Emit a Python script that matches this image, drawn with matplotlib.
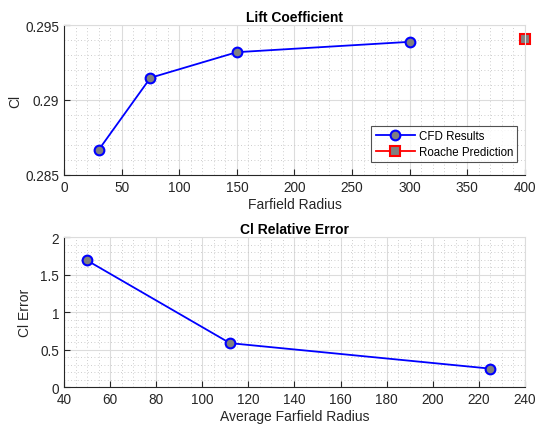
import matplotlib.pyplot as plt
from matplotlib.ticker import MultipleLocator

plt.rcParams['font.family'] = ['Liberation Sans', 'DejaVu Sans']

# data
farfield_radius = [30, 75, 150, 300]
cl_cfd = [0.28666, 0.29148, 0.29319, 0.29388]
roache_radius = [400]
cl_roache = [0.29407]

avg_radius = [50, 112, 225]
cl_error = [1.688, 0.585, 0.245]

txt = '#262626'


def style_axes(ax, xminor, yminor):
    ax.xaxis.set_minor_locator(MultipleLocator(xminor))
    ax.yaxis.set_minor_locator(MultipleLocator(yminor))
    ax.grid(which='major', color='#dcdcdc', linewidth=0.8)
    ax.grid(which='minor', color='#bdbdbd', linestyle=(0, (1, 3)), linewidth=0.6)
    ax.set_axisbelow(True)
    for s in ['top', 'right']:
        ax.spines[s].set_color('#dcdcdc')
    for s in ['left', 'bottom']:
        ax.spines[s].set_color(txt)
    ax.tick_params(which='both', direction='in', colors=txt, labelsize=9.8)
    ax.tick_params(which='minor', length=0)
    ax.tick_params(which='major', length=4, top=False, right=False)


fig = plt.figure(figsize=(5.35, 4.27), dpi=100)
ax1 = fig.add_axes([0.1196, 0.588, 0.8617, 0.351])
ax2 = fig.add_axes([0.1196, 0.0913, 0.8617, 0.3513])

ax1.plot(farfield_radius, cl_cfd, '-o', color='blue', lw=1.3, ms=7,
         mfc='#808080', mec='blue', mew=1.5, label='CFD Results')
ax1.plot(roache_radius, cl_roache, '-s', color='red', lw=1.3, ms=7,
         mfc='#808080', mec='red', mew=1.5, label='Roache Prediction', clip_on=False)
ax1.set_xlim(0, 400)
ax1.set_ylim(0.285, 0.295)
ax1.set_yticks([0.285, 0.29, 0.295])
ax1.set_yticklabels(['0.285', '0.29', '0.295'])
style_axes(ax1, 10, 0.001)
ax1.set_title('Lift Coefficient', fontsize=10, fontweight='bold', pad=3)
ax1.set_xlabel('Farfield Radius', fontsize=10, color=txt, labelpad=2)
ax1.set_ylabel('Cl', fontsize=10, color=txt, labelpad=2)
leg = ax1.legend(loc='lower right', bbox_to_anchor=(0.983, 0.087), fontsize=8.3,
                 frameon=True, fancybox=False, edgecolor=txt, borderpad=0.35,
                 handlelength=3.4, handletextpad=0.35, labelspacing=0.35,
                 borderaxespad=0)
leg.get_frame().set_linewidth(0.8)

ax2.plot(avg_radius, cl_error, '-o', color='blue', lw=1.3, ms=7,
         mfc='#808080', mec='blue', mew=1.5)
ax2.set_xlim(40, 240)
ax2.set_ylim(0, 2)
ax2.set_xticks(range(40, 241, 20))
ax2.set_yticks([0, 0.5, 1, 1.5, 2])
ax2.set_yticklabels(['0', '0.5', '1', '1.5', '2'])
style_axes(ax2, 5, 0.1)
ax2.set_title('Cl Relative Error', fontsize=10, fontweight='bold', pad=3)
ax2.set_xlabel('Average Farfield Radius', fontsize=10, color=txt, labelpad=2)
ax2.set_ylabel('Cl Error', fontsize=10, color=txt, labelpad=6)

fig.savefig('out.png', dpi=100)
